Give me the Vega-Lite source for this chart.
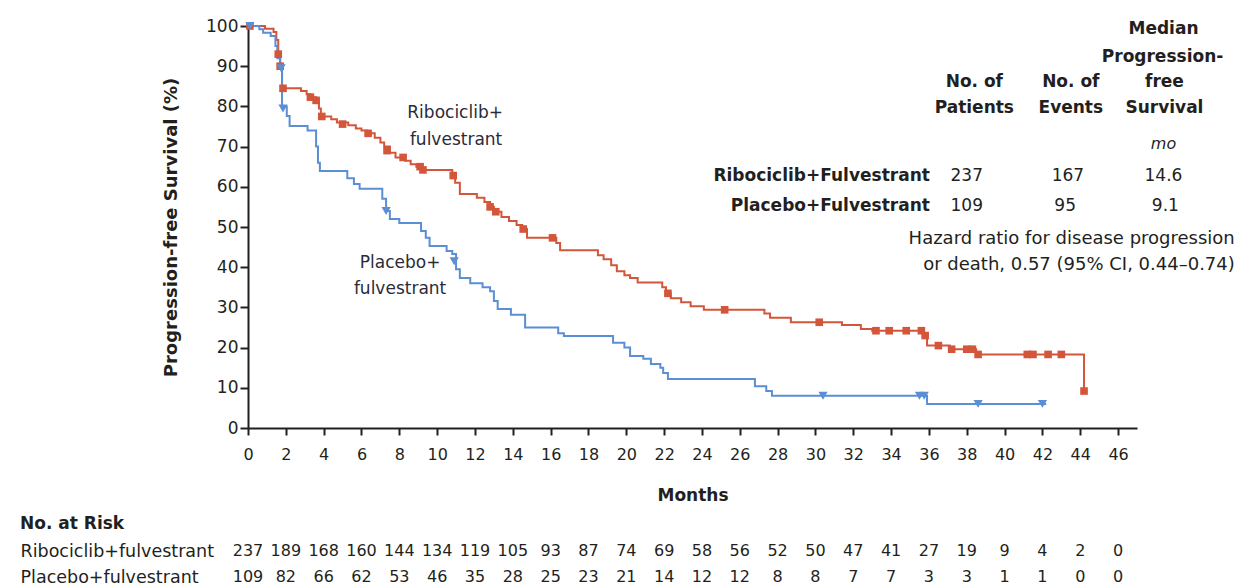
{
  "$schema": "https://vega.github.io/schema/vega-lite/v6.json",
  "padding": {"left": 20, "top": 17, "right": 2, "bottom": 2},
  "spacing": 12,
  "config": {
    "font": "DejaVu Sans",
    "view": {"stroke": null},
    "text": {"color": "#231f20"},
    "axis": {"labelColor": "#231f20", "titleColor": "#231f20", "domainColor": "#231f20", "tickColor": "#231f20", "grid": false}
  },
  "datasets": {
    "curves": [
      {"arm": "Ribociclib+fulvestrant", "month": 0, "pct": 100},
      {"arm": "Ribociclib+fulvestrant", "month": 0.9, "pct": 99.3},
      {"arm": "Ribociclib+fulvestrant", "month": 1.35, "pct": 98.5},
      {"arm": "Ribociclib+fulvestrant", "month": 1.5, "pct": 96.5},
      {"arm": "Ribociclib+fulvestrant", "month": 1.6, "pct": 93},
      {"arm": "Ribociclib+fulvestrant", "month": 1.7, "pct": 90},
      {"arm": "Ribociclib+fulvestrant", "month": 1.8, "pct": 84.5},
      {"arm": "Ribociclib+fulvestrant", "month": 2.8, "pct": 83.8},
      {"arm": "Ribociclib+fulvestrant", "month": 3.1, "pct": 83},
      {"arm": "Ribociclib+fulvestrant", "month": 3.3, "pct": 82.3},
      {"arm": "Ribociclib+fulvestrant", "month": 3.6, "pct": 81.5},
      {"arm": "Ribociclib+fulvestrant", "month": 3.75, "pct": 79.5},
      {"arm": "Ribociclib+fulvestrant", "month": 3.85, "pct": 77.5},
      {"arm": "Ribociclib+fulvestrant", "month": 4.4, "pct": 76.8},
      {"arm": "Ribociclib+fulvestrant", "month": 4.7, "pct": 76},
      {"arm": "Ribociclib+fulvestrant", "month": 5.3, "pct": 75.3},
      {"arm": "Ribociclib+fulvestrant", "month": 5.7, "pct": 74.5},
      {"arm": "Ribociclib+fulvestrant", "month": 6.0, "pct": 74},
      {"arm": "Ribociclib+fulvestrant", "month": 6.3, "pct": 73.3},
      {"arm": "Ribociclib+fulvestrant", "month": 6.7, "pct": 72.2},
      {"arm": "Ribociclib+fulvestrant", "month": 7.0, "pct": 71},
      {"arm": "Ribociclib+fulvestrant", "month": 7.2, "pct": 70},
      {"arm": "Ribociclib+fulvestrant", "month": 7.5, "pct": 68.5},
      {"arm": "Ribociclib+fulvestrant", "month": 7.8, "pct": 67.3},
      {"arm": "Ribociclib+fulvestrant", "month": 8.3, "pct": 66.5},
      {"arm": "Ribociclib+fulvestrant", "month": 8.6, "pct": 65.6},
      {"arm": "Ribociclib+fulvestrant", "month": 8.9, "pct": 65},
      {"arm": "Ribociclib+fulvestrant", "month": 9.2, "pct": 64.2},
      {"arm": "Ribociclib+fulvestrant", "month": 10.8, "pct": 62.8},
      {"arm": "Ribociclib+fulvestrant", "month": 10.95, "pct": 61},
      {"arm": "Ribociclib+fulvestrant", "month": 11.2, "pct": 58.2},
      {"arm": "Ribociclib+fulvestrant", "month": 12.1, "pct": 57.3},
      {"arm": "Ribociclib+fulvestrant", "month": 12.5, "pct": 56.2},
      {"arm": "Ribociclib+fulvestrant", "month": 12.8, "pct": 55},
      {"arm": "Ribociclib+fulvestrant", "month": 13.0, "pct": 53.8},
      {"arm": "Ribociclib+fulvestrant", "month": 13.4, "pct": 52.5},
      {"arm": "Ribociclib+fulvestrant", "month": 13.8, "pct": 51.5},
      {"arm": "Ribociclib+fulvestrant", "month": 14.2, "pct": 50.5},
      {"arm": "Ribociclib+fulvestrant", "month": 14.5, "pct": 49.5},
      {"arm": "Ribociclib+fulvestrant", "month": 14.75, "pct": 47.3},
      {"arm": "Ribociclib+fulvestrant", "month": 16.3, "pct": 46},
      {"arm": "Ribociclib+fulvestrant", "month": 16.5, "pct": 44.2},
      {"arm": "Ribociclib+fulvestrant", "month": 18.5, "pct": 43},
      {"arm": "Ribociclib+fulvestrant", "month": 18.8, "pct": 42},
      {"arm": "Ribociclib+fulvestrant", "month": 19.2, "pct": 40.5},
      {"arm": "Ribociclib+fulvestrant", "month": 19.5, "pct": 39},
      {"arm": "Ribociclib+fulvestrant", "month": 19.9, "pct": 38},
      {"arm": "Ribociclib+fulvestrant", "month": 20.2, "pct": 37.3},
      {"arm": "Ribociclib+fulvestrant", "month": 20.6, "pct": 36.2},
      {"arm": "Ribociclib+fulvestrant", "month": 21.9, "pct": 35},
      {"arm": "Ribociclib+fulvestrant", "month": 22.1, "pct": 33.5},
      {"arm": "Ribociclib+fulvestrant", "month": 22.35, "pct": 32.3},
      {"arm": "Ribociclib+fulvestrant", "month": 22.9, "pct": 31.3},
      {"arm": "Ribociclib+fulvestrant", "month": 23.4, "pct": 30.3},
      {"arm": "Ribociclib+fulvestrant", "month": 24.1, "pct": 29.4},
      {"arm": "Ribociclib+fulvestrant", "month": 27.3, "pct": 28.5},
      {"arm": "Ribociclib+fulvestrant", "month": 27.6, "pct": 27.4},
      {"arm": "Ribociclib+fulvestrant", "month": 28.7, "pct": 26.3},
      {"arm": "Ribociclib+fulvestrant", "month": 31.4, "pct": 25.6},
      {"arm": "Ribociclib+fulvestrant", "month": 32.4, "pct": 24.6},
      {"arm": "Ribociclib+fulvestrant", "month": 33.0, "pct": 24.2},
      {"arm": "Ribociclib+fulvestrant", "month": 35.7, "pct": 23},
      {"arm": "Ribociclib+fulvestrant", "month": 35.9, "pct": 20.5},
      {"arm": "Ribociclib+fulvestrant", "month": 37.1, "pct": 19.6},
      {"arm": "Ribociclib+fulvestrant", "month": 38.5, "pct": 18.3},
      {"arm": "Ribociclib+fulvestrant", "month": 44.2, "pct": 9.2},
      {"arm": "Placebo+fulvestrant", "month": 0, "pct": 100},
      {"arm": "Placebo+fulvestrant", "month": 0.6, "pct": 99.2},
      {"arm": "Placebo+fulvestrant", "month": 0.8, "pct": 98.3},
      {"arm": "Placebo+fulvestrant", "month": 1.2, "pct": 97.5},
      {"arm": "Placebo+fulvestrant", "month": 1.45, "pct": 95},
      {"arm": "Placebo+fulvestrant", "month": 1.55, "pct": 92},
      {"arm": "Placebo+fulvestrant", "month": 1.7, "pct": 89.5},
      {"arm": "Placebo+fulvestrant", "month": 1.8, "pct": 80},
      {"arm": "Placebo+fulvestrant", "month": 2.05, "pct": 77.6},
      {"arm": "Placebo+fulvestrant", "month": 2.2, "pct": 75.1},
      {"arm": "Placebo+fulvestrant", "month": 3.15, "pct": 74},
      {"arm": "Placebo+fulvestrant", "month": 3.6, "pct": 70},
      {"arm": "Placebo+fulvestrant", "month": 3.7, "pct": 66},
      {"arm": "Placebo+fulvestrant", "month": 3.8, "pct": 63.9},
      {"arm": "Placebo+fulvestrant", "month": 5.25, "pct": 62.1},
      {"arm": "Placebo+fulvestrant", "month": 5.6, "pct": 60.7},
      {"arm": "Placebo+fulvestrant", "month": 5.9, "pct": 59.5},
      {"arm": "Placebo+fulvestrant", "month": 7.1, "pct": 57},
      {"arm": "Placebo+fulvestrant", "month": 7.3, "pct": 54},
      {"arm": "Placebo+fulvestrant", "month": 7.5, "pct": 52},
      {"arm": "Placebo+fulvestrant", "month": 8.0, "pct": 51},
      {"arm": "Placebo+fulvestrant", "month": 9.15, "pct": 49},
      {"arm": "Placebo+fulvestrant", "month": 9.4, "pct": 47.3},
      {"arm": "Placebo+fulvestrant", "month": 9.6, "pct": 45.3},
      {"arm": "Placebo+fulvestrant", "month": 10.5, "pct": 44},
      {"arm": "Placebo+fulvestrant", "month": 10.8, "pct": 43.3},
      {"arm": "Placebo+fulvestrant", "month": 11.0, "pct": 39.5},
      {"arm": "Placebo+fulvestrant", "month": 11.2, "pct": 37.3},
      {"arm": "Placebo+fulvestrant", "month": 11.75, "pct": 36},
      {"arm": "Placebo+fulvestrant", "month": 12.4, "pct": 35},
      {"arm": "Placebo+fulvestrant", "month": 12.8, "pct": 34},
      {"arm": "Placebo+fulvestrant", "month": 13.0, "pct": 31.6},
      {"arm": "Placebo+fulvestrant", "month": 13.2, "pct": 29.6},
      {"arm": "Placebo+fulvestrant", "month": 13.9, "pct": 28.2},
      {"arm": "Placebo+fulvestrant", "month": 14.65, "pct": 25},
      {"arm": "Placebo+fulvestrant", "month": 16.4, "pct": 23.6},
      {"arm": "Placebo+fulvestrant", "month": 16.7, "pct": 22.9},
      {"arm": "Placebo+fulvestrant", "month": 19.3, "pct": 21.2},
      {"arm": "Placebo+fulvestrant", "month": 19.9, "pct": 20},
      {"arm": "Placebo+fulvestrant", "month": 20.2, "pct": 17.9},
      {"arm": "Placebo+fulvestrant", "month": 20.9, "pct": 17.2},
      {"arm": "Placebo+fulvestrant", "month": 21.3, "pct": 15.9},
      {"arm": "Placebo+fulvestrant", "month": 21.8, "pct": 15},
      {"arm": "Placebo+fulvestrant", "month": 21.95, "pct": 13.7},
      {"arm": "Placebo+fulvestrant", "month": 22.2, "pct": 12.2},
      {"arm": "Placebo+fulvestrant", "month": 26.8, "pct": 10.4},
      {"arm": "Placebo+fulvestrant", "month": 27.4, "pct": 9.2},
      {"arm": "Placebo+fulvestrant", "month": 27.7, "pct": 8},
      {"arm": "Placebo+fulvestrant", "month": 35.9, "pct": 6},
      {"arm": "Placebo+fulvestrant", "month": 42.2, "pct": 6}
    ],
    "censor": [
      {"arm": "Ribociclib+fulvestrant", "month": 0.1, "pct": 100},
      {"arm": "Ribociclib+fulvestrant", "month": 1.6, "pct": 93},
      {"arm": "Ribociclib+fulvestrant", "month": 1.7, "pct": 90},
      {"arm": "Ribociclib+fulvestrant", "month": 1.85, "pct": 84.5},
      {"arm": "Ribociclib+fulvestrant", "month": 3.3, "pct": 82.3},
      {"arm": "Ribociclib+fulvestrant", "month": 3.6, "pct": 81.5},
      {"arm": "Ribociclib+fulvestrant", "month": 3.9, "pct": 77.5},
      {"arm": "Ribociclib+fulvestrant", "month": 5.0, "pct": 75.6},
      {"arm": "Ribociclib+fulvestrant", "month": 6.35, "pct": 73.3},
      {"arm": "Ribociclib+fulvestrant", "month": 7.35, "pct": 69},
      {"arm": "Ribociclib+fulvestrant", "month": 8.2, "pct": 67.3},
      {"arm": "Ribociclib+fulvestrant", "month": 9.1, "pct": 65},
      {"arm": "Ribociclib+fulvestrant", "month": 9.25, "pct": 64.2},
      {"arm": "Ribociclib+fulvestrant", "month": 10.85, "pct": 62.8},
      {"arm": "Ribociclib+fulvestrant", "month": 12.8, "pct": 55},
      {"arm": "Ribociclib+fulvestrant", "month": 13.1, "pct": 53.8},
      {"arm": "Ribociclib+fulvestrant", "month": 14.55, "pct": 49.5},
      {"arm": "Ribociclib+fulvestrant", "month": 16.1, "pct": 47.3},
      {"arm": "Ribociclib+fulvestrant", "month": 22.2, "pct": 33.5},
      {"arm": "Ribociclib+fulvestrant", "month": 25.2, "pct": 29.4},
      {"arm": "Ribociclib+fulvestrant", "month": 30.2, "pct": 26.3},
      {"arm": "Ribociclib+fulvestrant", "month": 33.2, "pct": 24.2},
      {"arm": "Ribociclib+fulvestrant", "month": 33.9, "pct": 24.2},
      {"arm": "Ribociclib+fulvestrant", "month": 34.8, "pct": 24.2},
      {"arm": "Ribociclib+fulvestrant", "month": 35.6, "pct": 24.2},
      {"arm": "Ribociclib+fulvestrant", "month": 35.8, "pct": 23},
      {"arm": "Ribociclib+fulvestrant", "month": 36.5, "pct": 20.5},
      {"arm": "Ribociclib+fulvestrant", "month": 37.2, "pct": 19.6},
      {"arm": "Ribociclib+fulvestrant", "month": 38.0, "pct": 19.6},
      {"arm": "Ribociclib+fulvestrant", "month": 38.3, "pct": 19.6},
      {"arm": "Ribociclib+fulvestrant", "month": 38.6, "pct": 18.3},
      {"arm": "Ribociclib+fulvestrant", "month": 41.2, "pct": 18.3},
      {"arm": "Ribociclib+fulvestrant", "month": 41.5, "pct": 18.3},
      {"arm": "Ribociclib+fulvestrant", "month": 42.3, "pct": 18.3},
      {"arm": "Ribociclib+fulvestrant", "month": 43.0, "pct": 18.3},
      {"arm": "Ribociclib+fulvestrant", "month": 44.2, "pct": 9.2},
      {"arm": "Placebo+fulvestrant", "month": 0.1, "pct": 100},
      {"arm": "Placebo+fulvestrant", "month": 1.75, "pct": 89.5},
      {"arm": "Placebo+fulvestrant", "month": 1.85, "pct": 79.5},
      {"arm": "Placebo+fulvestrant", "month": 7.3, "pct": 54},
      {"arm": "Placebo+fulvestrant", "month": 10.9, "pct": 41.5},
      {"arm": "Placebo+fulvestrant", "month": 30.4, "pct": 8},
      {"arm": "Placebo+fulvestrant", "month": 35.5, "pct": 8},
      {"arm": "Placebo+fulvestrant", "month": 35.75, "pct": 8},
      {"arm": "Placebo+fulvestrant", "month": 38.6, "pct": 6},
      {"arm": "Placebo+fulvestrant", "month": 42.0, "pct": 6}
    ],
    "curveLabels": [
      {"month": 10.95, "pct": 78.4, "label": "Ribociclib+"},
      {"month": 11.0, "pct": 71.6, "label": "fulvestrant"},
      {"month": 8.04, "pct": 41.0, "label": "Placebo+"},
      {"month": 8.04, "pct": 34.6, "label": "fulvestrant"}
    ],
    "table": [
      {"kind": "head", "month": 48.4, "pct": 99.3, "label": "Median"},
      {"kind": "head", "month": 48.35, "pct": 92.3, "label": "Progression-"},
      {"kind": "head", "month": 38.4, "pct": 86.1, "label": "No. of"},
      {"kind": "head", "month": 43.5, "pct": 86.1, "label": "No. of"},
      {"kind": "head", "month": 48.45, "pct": 86.1, "label": "free"},
      {"kind": "head", "month": 38.4, "pct": 79.6, "label": "Patients"},
      {"kind": "head", "month": 43.5, "pct": 79.6, "label": "Events"},
      {"kind": "head", "month": 48.45, "pct": 79.6, "label": "Survival"},
      {"kind": "unit", "month": 48.4, "pct": 70.6, "label": "mo"},
      {"kind": "arm", "month": 36.05, "pct": 62.7, "label": "Ribociclib+Fulvestrant"},
      {"kind": "arm", "month": 36.05, "pct": 55.2, "label": "Placebo+Fulvestrant"},
      {"kind": "val", "month": 38.0, "pct": 62.7, "label": "237"},
      {"kind": "val", "month": 43.35, "pct": 62.7, "label": "167"},
      {"kind": "val", "month": 48.4, "pct": 62.7, "label": "14.6"},
      {"kind": "val", "month": 38.0, "pct": 55.2, "label": "109"},
      {"kind": "val", "month": 43.2, "pct": 55.2, "label": "95"},
      {"kind": "val", "month": 48.5, "pct": 55.2, "label": "9.1"},
      {"kind": "note", "month": 52.17, "pct": 47.0, "label": "Hazard ratio for disease progression"},
      {"kind": "note", "month": 52.17, "pct": 40.5, "label": "or death, 0.57 (95% CI, 0.44–0.74)"}
    ],
    "risk": [
      {"arm": "Ribociclib+fulvestrant", "month": 0, "n": 237},
      {"arm": "Ribociclib+fulvestrant", "month": 2, "n": 189},
      {"arm": "Ribociclib+fulvestrant", "month": 4, "n": 168},
      {"arm": "Ribociclib+fulvestrant", "month": 6, "n": 160},
      {"arm": "Ribociclib+fulvestrant", "month": 8, "n": 144},
      {"arm": "Ribociclib+fulvestrant", "month": 10, "n": 134},
      {"arm": "Ribociclib+fulvestrant", "month": 12, "n": 119},
      {"arm": "Ribociclib+fulvestrant", "month": 14, "n": 105},
      {"arm": "Ribociclib+fulvestrant", "month": 16, "n": 93},
      {"arm": "Ribociclib+fulvestrant", "month": 18, "n": 87},
      {"arm": "Ribociclib+fulvestrant", "month": 20, "n": 74},
      {"arm": "Ribociclib+fulvestrant", "month": 22, "n": 69},
      {"arm": "Ribociclib+fulvestrant", "month": 24, "n": 58},
      {"arm": "Ribociclib+fulvestrant", "month": 26, "n": 56},
      {"arm": "Ribociclib+fulvestrant", "month": 28, "n": 52},
      {"arm": "Ribociclib+fulvestrant", "month": 30, "n": 50},
      {"arm": "Ribociclib+fulvestrant", "month": 32, "n": 47},
      {"arm": "Ribociclib+fulvestrant", "month": 34, "n": 41},
      {"arm": "Ribociclib+fulvestrant", "month": 36, "n": 27},
      {"arm": "Ribociclib+fulvestrant", "month": 38, "n": 19},
      {"arm": "Ribociclib+fulvestrant", "month": 40, "n": 9},
      {"arm": "Ribociclib+fulvestrant", "month": 42, "n": 4},
      {"arm": "Ribociclib+fulvestrant", "month": 44, "n": 2},
      {"arm": "Ribociclib+fulvestrant", "month": 46, "n": 0},
      {"arm": "Placebo+fulvestrant", "month": 0, "n": 109},
      {"arm": "Placebo+fulvestrant", "month": 2, "n": 82},
      {"arm": "Placebo+fulvestrant", "month": 4, "n": 66},
      {"arm": "Placebo+fulvestrant", "month": 6, "n": 62},
      {"arm": "Placebo+fulvestrant", "month": 8, "n": 53},
      {"arm": "Placebo+fulvestrant", "month": 10, "n": 46},
      {"arm": "Placebo+fulvestrant", "month": 12, "n": 35},
      {"arm": "Placebo+fulvestrant", "month": 14, "n": 28},
      {"arm": "Placebo+fulvestrant", "month": 16, "n": 25},
      {"arm": "Placebo+fulvestrant", "month": 18, "n": 23},
      {"arm": "Placebo+fulvestrant", "month": 20, "n": 21},
      {"arm": "Placebo+fulvestrant", "month": 22, "n": 14},
      {"arm": "Placebo+fulvestrant", "month": 24, "n": 12},
      {"arm": "Placebo+fulvestrant", "month": 26, "n": 12},
      {"arm": "Placebo+fulvestrant", "month": 28, "n": 8},
      {"arm": "Placebo+fulvestrant", "month": 30, "n": 8},
      {"arm": "Placebo+fulvestrant", "month": 32, "n": 7},
      {"arm": "Placebo+fulvestrant", "month": 34, "n": 7},
      {"arm": "Placebo+fulvestrant", "month": 36, "n": 3},
      {"arm": "Placebo+fulvestrant", "month": 38, "n": 3},
      {"arm": "Placebo+fulvestrant", "month": 40, "n": 1},
      {"arm": "Placebo+fulvestrant", "month": 42, "n": 1},
      {"arm": "Placebo+fulvestrant", "month": 44, "n": 0},
      {"arm": "Placebo+fulvestrant", "month": 46, "n": 0}
    ]
  },
  "vconcat": [
    {
      "width": 889,
      "height": 402,
      "encoding": {
        "x": {"field": "month", "type": "quantitative",
          "scale": {"domain": [0, 47], "nice": false, "zero": false},
          "axis": {"title": "Months", "values": [0,2,4,6,8,10,12,14,16,18,20,22,24,26,28,30,32,34,36,38,40,42,44,46],
            "tickCount": 24, "labelSeparation": 0,
            "domainWidth": 2, "tickWidth": 2, "tickSize": 7, "labelPadding": 11, "labelFontSize": 16, "labelFlush": false, "labelOverlap": false,
            "titleFontSize": 17, "titleFontWeight": "bold", "titlePadding": 25}},
        "y": {"field": "pct", "type": "quantitative",
          "scale": {"domain": [0, 100], "nice": false},
          "axis": {"title": "Progression-free Survival (%)", "values": [0,10,20,30,40,50,60,70,80,90,100],
            "domainWidth": 2, "tickWidth": 2, "tickSize": 8, "labelPadding": 2, "labelFontSize": 17, "labelFlush": false,
            "titleFontSize": 18, "titleFontWeight": "bold", "titlePadding": 25}}
      },
      "layer": [
        {
          "data": {"name": "curves"},
          "mark": {"type": "line", "interpolate": "step-after", "strokeWidth": 2},
          "encoding": {
            "color": {"field": "arm", "type": "nominal",
              "scale": {"domain": ["Ribociclib+fulvestrant", "Placebo+fulvestrant"], "range": ["#d3553a", "#5b8ed4"]},
              "legend": null}
          }
        },
        {
          "data": {"name": "censor"},
          "mark": {"type": "point", "filled": true, "opacity": 1},
          "encoding": {
            "color": {"field": "arm", "type": "nominal", "legend": null},
            "shape": {"field": "arm", "type": "nominal",
              "scale": {"domain": ["Ribociclib+fulvestrant", "Placebo+fulvestrant"], "range": ["square", "triangle-down"]},
              "legend": null},
            "size": {"field": "arm", "type": "nominal",
              "scale": {"domain": ["Ribociclib+fulvestrant", "Placebo+fulvestrant"], "range": [58, 85]},
              "legend": null}
          }
        },
        {
          "data": {"name": "curveLabels"},
          "mark": {"type": "text", "fontSize": 17, "align": "center", "baseline": "middle", "color": "#2b2b3a"},
          "encoding": {"text": {"field": "label", "type": "nominal"}}
        },
        {
          "data": {"name": "table"},
          "transform": [{"filter": "datum.kind === 'head'"}],
          "mark": {"type": "text", "fontSize": 17, "fontWeight": "bold", "align": "center", "baseline": "middle"},
          "encoding": {"text": {"field": "label", "type": "nominal"}}
        },
        {
          "data": {"name": "table"},
          "transform": [{"filter": "datum.kind === 'unit'"}],
          "mark": {"type": "text", "fontSize": 16, "fontStyle": "italic", "align": "center", "baseline": "middle"},
          "encoding": {"text": {"field": "label", "type": "nominal"}}
        },
        {
          "data": {"name": "table"},
          "transform": [{"filter": "datum.kind === 'arm'"}],
          "mark": {"type": "text", "fontSize": 17, "fontWeight": "bold", "align": "right", "baseline": "middle"},
          "encoding": {"text": {"field": "label", "type": "nominal"}}
        },
        {
          "data": {"name": "table"},
          "transform": [{"filter": "datum.kind === 'val'"}],
          "mark": {"type": "text", "fontSize": 17, "align": "center", "baseline": "middle"},
          "encoding": {"text": {"field": "label", "type": "nominal"}}
        },
        {
          "data": {"name": "table"},
          "transform": [{"filter": "datum.kind === 'note'"}],
          "mark": {"type": "text", "fontSize": 18, "align": "right", "baseline": "middle"},
          "encoding": {"text": {"field": "label", "type": "nominal"}}
        }
      ]
    },
    {
      "width": 889,
      "height": {"step": 26},
      "title": {"text": "No. at Risk", "anchor": "start", "frame": "bounds", "fontSize": 17, "fontWeight": "bold", "color": "#231f20", "offset": 5},
      "data": {"name": "risk"},
      "mark": {"type": "text", "fontSize": 16, "baseline": "middle"},
      "encoding": {
        "x": {"field": "month", "type": "quantitative", "scale": {"domain": [0, 47], "nice": false}, "axis": null},
        "y": {"field": "arm", "type": "nominal", "sort": ["Ribociclib+fulvestrant", "Placebo+fulvestrant"],
          "axis": {"title": null, "domain": false, "ticks": false, "labelAlign": "left", "labelPadding": 228, "labelLimit": 0, "labelFontSize": 17.5, "labelColor": "#231f20"}},
        "text": {"field": "n", "type": "quantitative"}
      }
    }
  ]
}
